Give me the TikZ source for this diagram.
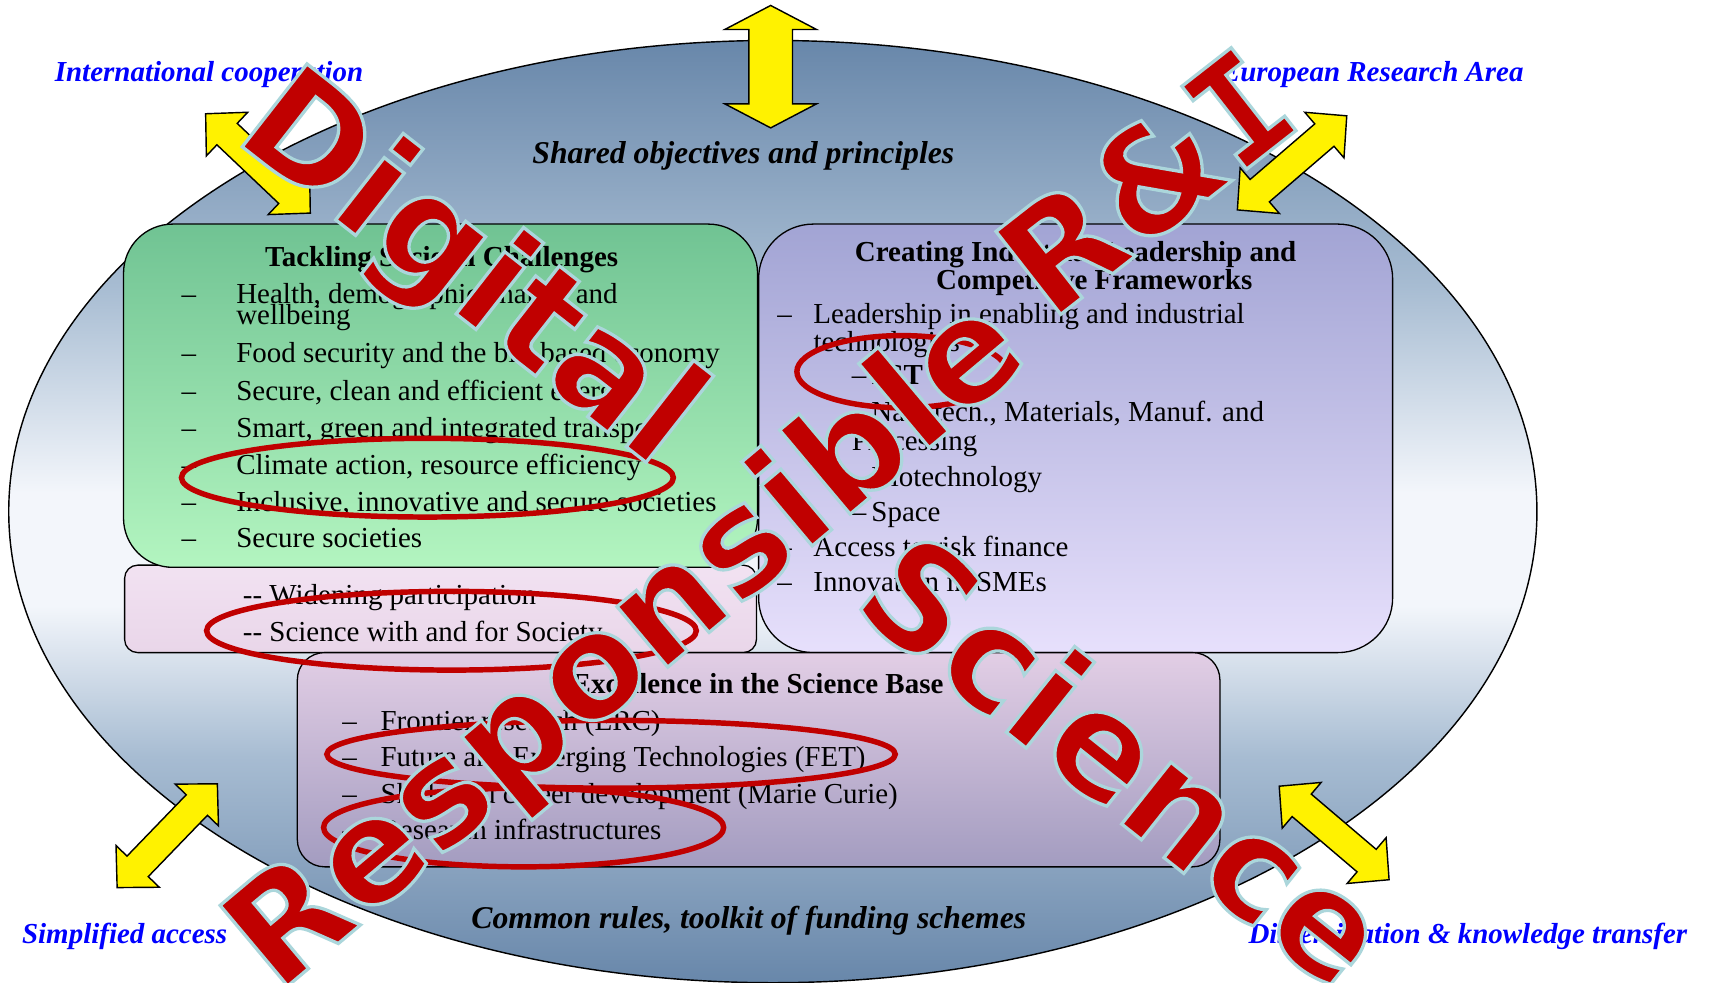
\documentclass[tikz,border=0pt]{standalone}
\usepackage{fontspec}
\setmainfont{Liberation Serif}
\newfontfamily\markfont{DejaVu Sans}
\newfontfamily\markmono{DejaVu Sans Mono}
\usetikzlibrary{positioning}

\definecolor{ovaldark}{HTML}{6887AA}
\definecolor{ovalmid}{HTML}{A7BCD2}
\definecolor{ovallight}{HTML}{F3F6FB}
\definecolor{greentop}{HTML}{70C393}
\definecolor{greenbot}{HTML}{B3F5C0}
\definecolor{lilactop}{HTML}{A2A4D4}
\definecolor{lilacbot}{HTML}{E7E0FC}
\definecolor{pinktop}{HTML}{F2E2F2}
\definecolor{pinkbot}{HTML}{E9D6E9}
\definecolor{mauvetop}{HTML}{E2CEE5}
\definecolor{mauvebot}{HTML}{A39CC0}
\definecolor{markred}{HTML}{C00000}
\definecolor{labelblue}{HTML}{0000FF}

\pgfdeclareverticalshading{ovalshade}{100bp}{color(0bp)=(ovaldark); color(25bp)=(ovaldark);
  color(37bp)=(ovalmid); color(45bp)=(ovallight); color(51bp)=(ovallight);
  color(62bp)=(ovalmid); color(75bp)=(ovaldark); color(100bp)=(ovaldark)}

% red lettering with a pale rim
\newcommand{\rimmed}[1]{\special{pdf:literal direct 0.67 0.84 0.86 RG 3 w 2 Tr}#1\special{pdf:literal direct 0 Tr}}

\begin{document}
\begin{tikzpicture}[x=1pt, y=-1pt,
  box/.style={draw=black, line width=1.2pt, inner sep=0pt},
  item/.style={anchor=base west, inner sep=0pt, font=\fontsize{26.5}{26.5}\selectfont},
  head/.style={anchor=base, inner sep=0pt, font=\bfseries\fontsize{26.5}{26.5}\selectfont},
  motto/.style={anchor=base, inner sep=0pt, font=\bfseries\itshape\fontsize{29}{29}\selectfont},
  link/.style={inner sep=0pt, text=labelblue, font=\bfseries\itshape\fontsize{26.5}{26.5}\selectfont},
  ring/.style={draw=markred, line width=5pt},
  markword/.style={inner sep=0pt, text=markred, font=\markfont\bfseries\fontsize{132}{132}\selectfont},
  arrowbody/.style={fill=yellow, draw=black, line width=1.3pt},
  pics/dblarrow/.style n args={4}{code={
    \pgfmathsetmacro\arrA{#1/2}\pgfmathsetmacro\arrB{#1/2-#4}
    \pgfmathsetmacro\arrH{#2/2}\pgfmathsetmacro\arrS{#3/2}
    \draw[arrowbody] (-\arrA,0) -- (-\arrB,\arrH) -- (-\arrB,\arrS) -- (\arrB,\arrS)
      -- (\arrB,\arrH) -- (\arrA,0) -- (\arrB,-\arrH) -- (\arrB,-\arrS)
      -- (-\arrB,-\arrS) -- (-\arrB,-\arrH) -- cycle;
  }}]
\useasboundingbox (0,0) rectangle (1568,899);

% big oval
\draw[line width=1.3pt, shading=ovalshade] (707,468) ellipse [x radius=699pt, y radius=431pt];

% the four blocks
\node[box, rounded corners=12pt, minimum width=578pt, minimum height=80pt,
  top color=pinktop, bottom color=pinkbot] (widen) at (403,557) {};
\node[box, rounded corners=45pt, minimum width=580pt, minimum height=314pt,
  top color=greentop, bottom color=greenbot] (society) at (403,362) {};
\node[box, rounded corners=50pt, minimum width=580pt, minimum height=392pt,
  top color=lilactop, bottom color=lilacbot] (industry) at (984,401) {};
\node[box, rounded corners=25pt, minimum width=844pt, minimum height=196pt,
  top color=mauvetop, bottom color=mauvebot] (excel) at (694,695) {};

% societal challenges
\node[head] (socT) at (404,244) {Tackling Societal Challenges};
\node[item] (soc1) at (166,278) {\makebox[50pt][l]{–}Health, demographic change and};
\node[item] (soc1b) at (216,297) {wellbeing};
\node[item] (soc2) at (166,332) {\makebox[50pt][l]{–}Food security and the bio-based economy};
\node[item] (soc3) at (166,366) {\makebox[50pt][l]{–}Secure, clean and efficient energy};
\node[item] (soc4) at (166,400) {\makebox[50pt][l]{–}Smart, green and integrated transport};
\node[item] (soc5) at (166,434) {\makebox[50pt][l]{–}Climate action, resource efficiency};
\node[item] (soc6) at (166,468) {\makebox[50pt][l]{–}Inclusive, innovative and secure societies};
\node[item] (soc7) at (166,501) {\makebox[50pt][l]{–}Secure societies};

\node[item] (wid1) at (222,553) {-{}- Widening participation};
\node[item] (wid2) at (222,587) {-{}- Science with and for Society};

% industrial leadership
\node[head] (indT) at (984,239.5) {Creating Industrial Leadership and};
\node[head] (indT2) at (1001,265) {Competitive Frameworks};
\node[item] (ind1) at (711,296) {\makebox[33pt][l]{–}Leadership in enabling and industrial};
\node[item] (ind1b) at (744,322) {technologies};
\node[item] (ind2) at (779,352) {\makebox[18pt][l]{–}\textbf{ICT}};
\node[item] (ind3) at (779,386) {\makebox[18pt][l]{–}Nanotech., Materials, Manuf. and};
\node[item] (ind3b) at (779,412) {Processing};
\node[item] (ind4) at (779,445) {\makebox[18pt][l]{–}Biotechnology};
\node[item] (ind5) at (779,477) {\makebox[18pt][l]{–}Space};
\node[item] (ind6) at (711,509) {\makebox[33pt][l]{–}Access to risk finance};
\node[item] (ind7) at (711,541) {\makebox[33pt][l]{–}Innovation in SMEs};

% science base
\node[head] (excT) at (693,634) {Excellence in the Science Base};
\node[item] (exc1) at (313,668) {\makebox[35pt][l]{–}Frontier research (ERC)};
\node[item] (exc2) at (313,701.5) {\makebox[35pt][l]{–}Future and Emerging Technologies (FET)};
\node[item] (exc3) at (313,735) {\makebox[35pt][l]{–}Skills and career development (Marie Curie)};
\node[item] (exc4) at (313,768) {\makebox[35pt][l]{–}Research infrastructures};

\node[motto] (shared) at (680,150) {Shared objectives and principles};
\node[motto] (rules) at (685,849) {Common rules, toolkit of funding schemes};

% outer labels and arrows
\node[link, anchor=base west] (intl) at (50,75) {International cooperation};
\node[link, anchor=base east] (era) at (1394,75) {European Research Area};
\node[link, anchor=base west] (simple) at (20,863) {Simplified access};
\node[link, anchor=base west] (dissem) at (1142,863) {Dissemination \& knowledge transfer};

\pic[rotate=90] (arrTop) at (705,61) {dblarrow={112}{84}{40}{22}};
\pic[rotate=-43.5] (arrIntl) at (236,149.5) {dblarrow={132}{55}{27}{27}};
\pic[rotate=40.7] (arrEra) at (1182,149) {dblarrow={132}{55}{27}{27}};
\pic[rotate=46] (arrSimple) at (153,764.5) {dblarrow={132}{55}{27}{27}};
\pic[rotate=-40.4] (arrDissem) at (1220.5,762) {dblarrow={132}{55}{27}{27}};

% red rings
\draw[ring] (391,437) ellipse [x radius=225pt, y radius=36pt];
\draw[ring] (413,577) ellipse [x radius=224pt, y radius=36pt];
\draw[ring] (825,340) ellipse [x radius=96pt, y radius=33pt];
\draw[ring] (559,690) ellipse [x radius=260pt, y radius=31pt];
\draw[ring] (479,757) ellipse [x radius=183pt, y radius=36pt];

% overlay words
\node[markword, rotate=-38] (digital) at (428,250) {\rimmed{Digital}};
\node[markword, rotate=38] (rni) at (1048,166) {\rimmed{R\&{\markmono I}}};
\node[markword, rotate=40] (respons) at (576,592) {\rimmed{Responsible}};
\node[markword, rotate=-38.5] (science) at (1030,694) {\rimmed{Science}};
\end{tikzpicture}
\end{document}
